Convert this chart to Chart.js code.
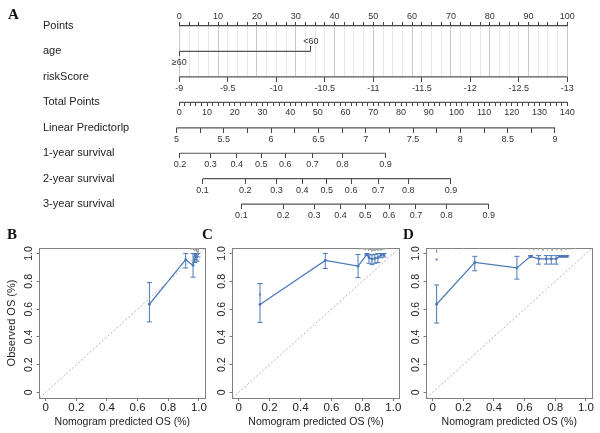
<!DOCTYPE html>
<html>
<head>
<meta charset="utf-8">
<script src="https://cdn.jsdelivr.net/npm/chart.js@4.4.1/dist/chart.umd.min.js"></script>
<style>
html, body { margin: 0; padding: 0; background: #fff; }
body { width: 600px; height: 433px; position: relative; overflow: hidden; }
canvas { position: absolute; }
.lab { position: absolute; font-family: "Liberation Serif", "Times New Roman", serif; font-weight: bold; font-size: 15px; line-height: 15px; color: #111; }
</style>
</head>
<body>
<canvas id="nomo" width="600" height="225" style="left:0;top:0"></canvas>
<canvas id="calB" width="210" height="198" style="left:0;top:235px"></canvas>
<canvas id="calC" width="195" height="198" style="left:210px;top:235px"></canvas>
<canvas id="calD" width="195" height="198" style="left:405px;top:235px"></canvas>
<div class="lab" style="left:8px;top:7px">A</div>
<div class="lab" style="left:7px;top:227px">B</div>
<div class="lab" style="left:202px;top:227px">C</div>
<div class="lab" style="left:403px;top:227px">D</div>
<script>
Chart.defaults.font.family = '"Liberation Sans", Arial, sans-serif';
Chart.defaults.color = '#333';

// ---- nomogram (panel A) ----
const rowNames = ['Points', 'age', 'riskScore', 'Total Points', 'Linear Predictorlp',
    '1-year survival', '2-year survival', '3-year survival'];
const pointsLabels = [0, 10, 20, 30, 40, 50, 60, 70, 80, 90, 100];
const ageLevels = ['\u226560', '<60'];
const agePoints = [0, 33.9];
const riskTicks = [-9, -9.5, -10, -10.5, -11, -11.5, -12, -12.5, -13];
const totalLabels = [0, 10, 20, 30, 40, 50, 60, 70, 80, 90, 100, 110, 120, 130, 140];
const lpLabels = [5, 5.5, 6, 6.5, 7, 7.5, 8, 8.5, 9];
const surv1Labels = ['0.2', '0.3', '0.4', '0.5', '0.6', '0.7', '0.8', '0.9'];
const surv1Pos = [0.25, 11.3, 20.7, 29.6, 38.2, 48.1, 58.9, 74.4];
const surv2Labels = ['0.1', '0.2', '0.3', '0.4', '0.5', '0.6', '0.7', '0.8', '0.9'];
const surv2Pos = [8.4, 23.8, 35.1, 44.4, 53.2, 62.0, 71.8, 82.6, 98.0];
const surv3Labels = ['0.1', '0.2', '0.3', '0.4', '0.5', '0.6', '0.7', '0.8', '0.9'];
const surv3Pos = [22.4, 37.5, 48.7, 58.2, 67.1, 75.7, 85.4, 96.4, 111.7];

function steps(a, b, s) {
    const out = [];
    for (let v = a; v <= b + 1e-9; v += s) out.push(Math.round(v * 1000) / 1000);
    return out;
}

function rowAxis(row, min, max, vals, label, tl, pad, reverse) {
    return {
        type: 'linear', axis: 'x', position: { y: row }, min: min, max: max,
        bounds: 'data', reverse: !!reverse,
        afterBuildTicks: s => { s.ticks = vals.map(v => ({ value: v })); },
        ticks: { autoSkip: false, maxRotation: 0, minRotation: 0, padding: pad,
            font: { size: 9 }, color: '#333', callback: (v, i) => label(v, i) },
        grid: { drawOnChartArea: false, tickLength: tl, tickColor: '#444', tickWidth: 1 },
        border: { display: false }
    };
}

function rowLine(axisId, row, x0, x1) {
    return {
        xAxisID: axisId, yAxisID: 'y', showLine: true, clip: false,
        data: [{ x: x0, y: row }, { x: x1, y: row }],
        borderColor: '#555', borderWidth: 1.2, pointRadius: 0
    };
}

new Chart(document.getElementById('nomo'), {
    type: 'scatter',
    data: {
        datasets: [
            rowLine('xAgeLo', 1, agePoints[0], agePoints[1]),
            rowLine('xRisk', 2, riskTicks[0], riskTicks[riskTicks.length - 1]),
            rowLine('xTotal', 3, 0, 140),
            rowLine('xLp', 4, lpLabels[0], lpLabels[lpLabels.length - 1]),
            rowLine('xS1', 5, surv1Pos[0], surv1Pos[surv1Pos.length - 1]),
            rowLine('xS2', 6, surv2Pos[0], surv2Pos[surv2Pos.length - 1]),
            rowLine('xS3', 7, surv3Pos[0], surv3Pos[surv3Pos.length - 1])
        ]
    },
    options: {
        responsive: false, animation: false, devicePixelRatio: 1,
        layout: { padding: { left: 43, right: 32.7, top: 0, bottom: 148.1 } },
        plugins: { legend: { display: false }, tooltip: { enabled: false } },
        scales: {
            y: {
                type: 'linear', position: 'left', min: 0, max: 2, reverse: true,
                afterBuildTicks: s => { s.ticks = rowNames.map((n, i) => ({ value: i })); },
                afterFit: s => { s.width = 136.3; },
                ticks: { autoSkip: false, crossAlign: 'far', font: { size: 11 }, color: '#222',
                    callback: (v, i) => rowNames[i] },
                grid: { display: false }, border: { display: false }
            },
            x: {
                type: 'linear', position: 'top', min: 0, max: 100, bounds: 'data',
                afterBuildTicks: s => { s.ticks = steps(0, 100, 2.5).map(v => ({ value: v })); },
                afterFit: s => { s.height = 26; },
                ticks: { autoSkip: false, maxRotation: 0, padding: 0, font: { size: 9 }, color: '#333',
                    callback: v => pointsLabels.includes(v) ? String(v) : '' },
                grid: {
                    color: c => (c.tick && pointsLabels.includes(c.tick.value)) ? '#c9c9c9' : '#e6e6e6',
                    tickColor: '#444', tickLength: 4, lineWidth: 1
                },
                border: { color: '#444', width: 1.2 }
            },
            xAgeLo: rowAxis(1, 0, 100, [agePoints[0]], () => ageLevels[0], 5, 1),
            xAgeHi: rowAxis(1, 0, 100, [agePoints[1]], () => ageLevels[1], -5, -10.5),
            xRisk: rowAxis(2, -13, -9, riskTicks, v => String(v), 5, 1, true),
            xTotal: rowAxis(3, 0, 140, steps(0, 140, 2), v => totalLabels.includes(v) ? String(v) : '', 4, 1),
            xLp: rowAxis(4, 5.03, 9.13, steps(5, 9, 0.25), v => lpLabels.includes(v) ? String(v) : '', 5, 1),
            xS1: rowAxis(5, 0, 140, surv1Pos, (v, i) => surv1Labels[i], 5, 1),
            xS2: rowAxis(6, 0, 140, surv2Pos, (v, i) => surv2Labels[i], 5, 1),
            xS3: rowAxis(7, 0, 140, surv3Pos, (v, i) => surv3Labels[i], 5, 1)
        }
    }
});

// ---- calibration curves (panels B, C, D) ----
const calTicks = [0, 0.2, 0.4, 0.6, 0.8, 1.0];

// 1-year
const bPred = [0.677, 0.914, 0.962, 0.972, 0.980, 0.987, 0.993];
const bObs = [0.635, 0.956, 0.915, 0.972, 0.985, 0.978, 0.998];
const bLo = [0.508, 0.896, 0.830, 0.935, 0.955, 0.945, 0.975];
const bHi = [0.791, 1.000, 1.000, 1.000, 1.000, 1.000, 1.000];
const bSpikeX = [0.955, 0.965, 0.975, 0.985, 0.995];
const bSpikeH = [0.010, 0.015, 0.020, 0.025, 0.030];

// 2-year
const cPred = [0.138, 0.560, 0.772, 0.828, 0.843, 0.862, 0.881, 0.900, 0.920, 0.940];
const cObs = [0.634, 0.950, 0.909, 0.993, 0.970, 0.960, 0.965, 0.970, 0.990, 0.990];
const cLo = [0.504, 0.892, 0.827, 0.988, 0.930, 0.920, 0.930, 0.935, 0.970, 0.975];
const cHi = [0.784, 1.000, 0.993, 1.000, 0.995, 0.990, 0.995, 1.000, 1.000, 1.000];
const cCorrX = [0.138];
const cCorrY = [0.705];
const cSpikeX = [0.785, 0.80, 0.81, 0.82, 0.83, 0.84, 0.85, 0.86, 0.87, 0.88, 0.89, 0.90, 0.91, 0.92, 0.93, 0.94, 0.955];
const cSpikeH = [0.010, 0.008, 0.012, 0.015, 0.010, 0.020, 0.015, 0.025, 0.018, 0.022, 0.015, 0.020, 0.012, 0.018, 0.010, 0.012, 0.008];

// 3-year
const dPred = [0.026, 0.275, 0.550, 0.639, 0.692, 0.742, 0.774, 0.806, 0.832, 0.854, 0.875];
const dObs = [0.635, 0.936, 0.897, 0.980, 0.962, 0.962, 0.962, 0.962, 0.980, 0.980, 0.980];
const dLo = [0.500, 0.876, 0.816, 0.975, 0.924, 0.924, 0.924, 0.924, 0.975, 0.975, 0.975];
const dHi = [0.774, 0.980, 0.980, 0.985, 0.985, 0.985, 0.985, 0.985, 0.985, 0.985, 0.985];
const dCorrX = [0.026];
const dCorrY = [0.957];
const dSpikeX = [0.026, 0.12, 0.2, 0.3, 0.38, 0.45, 0.5, 0.56, 0.6, 0.63, 0.66, 0.69, 0.72, 0.75, 0.78, 0.81, 0.84, 0.87, 0.9, 0.93];
const dSpikeH = [0.035, 0.004, 0.004, 0.005, 0.004, 0.006, 0.005, 0.008, 0.010, 0.012, 0.015, 0.012, 0.018, 0.015, 0.020, 0.015, 0.018, 0.012, 0.010, 0.006];

const blue = '#4a78b8';

function calChart(id, pred, obs, lo, hi, spikeX, spikeH, corrX, corrY, box, yTitle) {
    const bars = [];
    pred.forEach((p, i) => { bars.push({ x: p, y: lo[i] }, { x: p, y: hi[i] }, { x: p, y: null }); });
    const spikes = [];
    spikeX.forEach((s, i) => { spikes.push({ x: s, y: 1.04 }, { x: s, y: 1.04 - spikeH[i] }, { x: s, y: null }); });
    const line = pred.map((p, i) => ({ x: p, y: obs[i] }));
    const corr = corrX.map((c, i) => ({ x: c, y: corrY[i] }));
    const fmt = v => v === 0 ? '0' : v.toFixed(1);

    new Chart(document.getElementById(id), {
        type: 'scatter',
        data: {
            datasets: [
                { data: [{ x: -0.04, y: -0.04 }, { x: 1.04, y: 1.04 }], showLine: true,
                  borderColor: '#b3b3b3', borderWidth: 1, borderDash: [2, 2], pointRadius: 0 },
                { data: spikes, showLine: true, borderColor: '#a0a0a0', borderWidth: 1, pointRadius: 0 },
                { data: bars, showLine: true, borderColor: blue, borderWidth: 1,
                  pointStyle: 'line', pointRadius: 2.5, pointBorderColor: blue, pointBorderWidth: 1 },
                { data: line, showLine: true, borderColor: blue, borderWidth: 1.2,
                  pointRadius: 1.4, pointBackgroundColor: blue, pointBorderColor: blue, pointBorderWidth: 0 },
                { data: corr, pointStyle: 'rect', pointRadius: 1.3, pointBackgroundColor: blue,
                  pointBorderColor: blue, pointBorderWidth: 0 }
            ]
        },
        options: {
            responsive: false, animation: false, devicePixelRatio: 1,
            layout: { padding: 0 },
            plugins: { legend: { display: false }, tooltip: { enabled: false } },
            scales: {
                x: {
                    type: 'linear', position: 'bottom', min: -0.04, max: 1.04, bounds: 'data',
                    afterBuildTicks: s => { s.ticks = calTicks.map(v => ({ value: v })); },
                    afterFit: s => { s.height = box.xH; },
                    ticks: { autoSkip: false, maxRotation: 0, padding: 0, font: { size: 11.5 }, color: '#222', callback: fmt },
                    grid: { drawOnChartArea: false, tickLength: 3, tickColor: '#777' },
                    border: { color: '#808080' },
                    title: { display: true, text: 'Nomogram predicted OS (%)', font: { size: 10.5 }, color: '#222',
                        padding: { top: 0, bottom: 5 } }
                },
                y: {
                    type: 'linear', position: 'left', min: -0.04, max: 1.04, bounds: 'data',
                    afterBuildTicks: s => { s.ticks = calTicks.map(v => ({ value: v })); },
                    afterFit: s => { s.width = box.yW; },
                    ticks: { autoSkip: false, minRotation: 90, maxRotation: 90, crossAlign: 'center', padding: 0,
                        font: { size: 10.5 }, color: '#222', callback: fmt },
                    grid: { drawOnChartArea: false, tickLength: 3, tickColor: '#777' },
                    border: { color: '#808080' },
                    title: { display: !!yTitle, text: yTitle || '', font: { size: 11 }, color: '#222',
                        padding: { top: 5, bottom: 0 } }
                },
                x2: {
                    type: 'linear', axis: 'x', position: 'top', min: -0.04, max: 1.04,
                    afterFit: s => { s.height = box.x2H; },
                    ticks: { display: false }, grid: { display: false },
                    border: { color: '#808080' }
                },
                y2: {
                    type: 'linear', axis: 'y', position: 'right', min: -0.04, max: 1.04,
                    afterFit: s => { s.width = box.y2W; },
                    ticks: { display: false }, grid: { display: false },
                    border: { color: '#808080' }
                }
            }
        }
    });
}

calChart('calB', bPred, bObs, bLo, bHi, bSpikeX, bSpikeH, [], [], { yW: 39.6, y2W: 3.6, x2H: 13, xH: 35 }, 'Observed OS (%)');
calChart('calC', cPred, cObs, cLo, cHi, cSpikeX, cSpikeH, cCorrX, cCorrY, { yW: 22.5, y2W: 5.5, x2H: 13, xH: 35 }, '');
calChart('calD', dPred, dObs, dLo, dHi, dSpikeX, dSpikeH, dCorrX, dCorrY, { yW: 21.5, y2W: 8, x2H: 13, xH: 35 }, '');
</script>
</body>
</html>
